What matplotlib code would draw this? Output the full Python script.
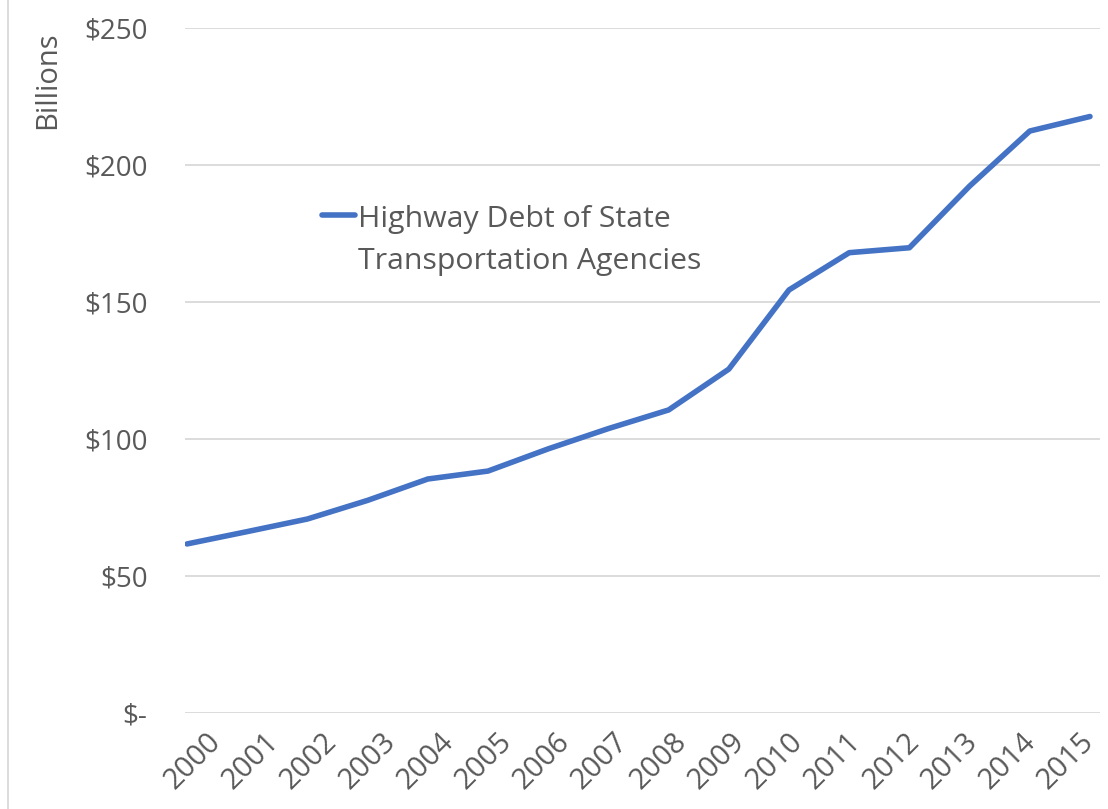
import matplotlib
matplotlib.use('Agg')
from matplotlib import pyplot as plt
from matplotlib.lines import Line2D
import numpy as np

plt.rcParams['font.family'] = ['Open Sans', 'DejaVu Sans']

years = ['2000', '2001', '2002', '2003', '2004', '2005', '2006', '2007',
         '2008', '2009', '2010', '2011', '2012', '2013', '2014', '2015']
debt = [61.7, 66.2, 70.8, 77.6, 85.4, 88.3, 96.4, 103.8,
        110.6, 125.5, 154.4, 168.0, 169.8, 192.3, 212.4, 217.7]
ytick_vals = [0, 50, 100, 150, 200, 250]
ytick_labels = ['$-', '$50', '$100', '$150', '$200', '$250']
legend_lines = ['Highway Debt of State', 'Transportation Agencies']

grey = '#595959'
blue = '#4472C4'
W, H = 1108, 809

fig = plt.figure(figsize=(W/100, H/100), dpi=100)
ax = fig.add_axes([185/W, 1 - 713/H, (1100 - 185)/W, (713 - 28)/H])

x = np.arange(len(years))
ax.plot(x, debt, color=blue, lw=4, solid_capstyle='round', solid_joinstyle='round')

ax.set_ylim(0, 250)
ax.set_xlim(-2/60.2, 15 + 10/60.2)
ax.set_yticks(ytick_vals)
ax.set_yticklabels(ytick_labels)
ax.set_xticks(x)
ax.set_xticklabels([])
ax.grid(axis='y', color='#D9D9D9', lw=1.3)
ax.set_axisbelow(True)
for s in ax.spines.values():
    s.set_visible(False)
ax.tick_params(axis='y', length=0, pad=27, labelsize=20, labelcolor=grey)
ax.tick_params(axis='x', length=0)

# Excel packs the rotated year labels a bit tighter than the points
lab = ax.twiny()
lab.xaxis.set_ticks_position('bottom')
lab.set_xlim(-8/58.2, 15 + 34/58.2)
lab.set_xticks(x)
lab.set_xticklabels(years, rotation=45, ha='center', va='top')
lab.tick_params(axis='x', length=0, pad=10, labelsize=21, labelcolor=grey)
for s in lab.spines.values():
    s.set_visible(False)

fig.text(48/W, 1 - 80/H, 'Billions', rotation=90, ha='center', va='center',
         fontsize=21, color=grey)

# legend drawn by hand so the key sits beside the first line
fig.add_artist(Line2D([322/W, 355/W], [1 - 215/H, 1 - 215/H],
                      color=blue, lw=4, solid_capstyle='round'))
fig.text(358/W, 1 - 227/H, legend_lines[0], ha='left', va='baseline',
         fontsize=21.8, color=grey)
fig.text(358/W, 1 - 269/H, legend_lines[1], ha='left', va='baseline',
         fontsize=21.8, color=grey)

# faint chart-area border at left
fig.add_artist(Line2D([8/W, 8/W], [0, 1], color='#D9D9D9', lw=1.3))

fig.savefig('out.png', dpi=100)
